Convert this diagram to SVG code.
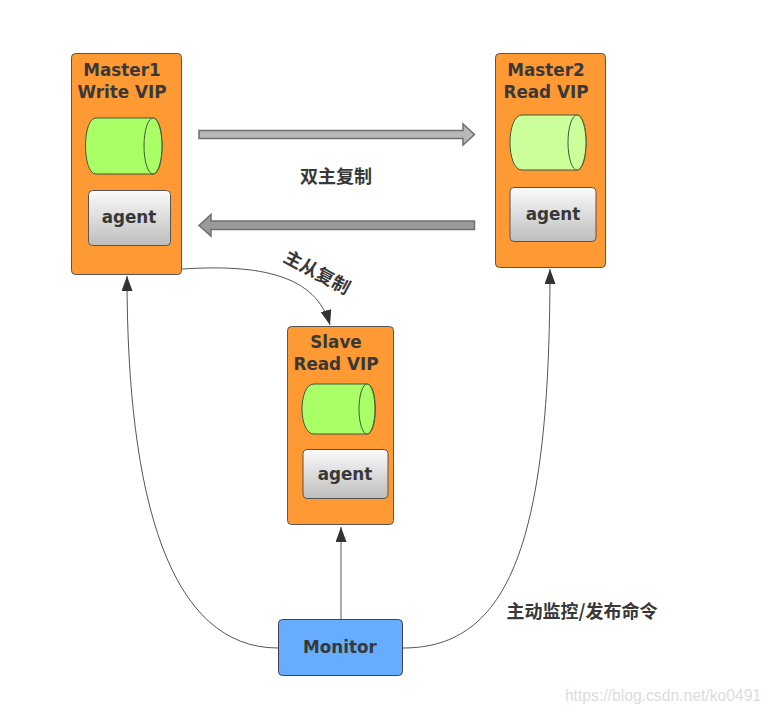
<svg xmlns="http://www.w3.org/2000/svg" width="769" height="713" viewBox="0 0 769 713">
<style>
text{font-family:"DejaVu Sans","Noto Sans CJK SC",sans-serif;font-weight:700;fill:#383838;text-anchor:middle}
.t{font-size:16.800px}
.zh{font-size:18px;font-family:"Noto Sans CJK SC",sans-serif}
.box{fill:#ff9933;stroke:#555;stroke-width:1}
.ag{fill:url(#ag);stroke:#555;stroke-width:1}
.cyl{stroke:#3d5a3d;stroke-width:1}
.link{fill:none;stroke:#555;stroke-width:1}
.big{stroke:#6f6f6f;stroke-width:1.500}
</style>
<defs>
<linearGradient id="ag" x1="0" y1="0" x2="0" y2="1"><stop offset="0" stop-color="#fbfbfb"/><stop offset="1" stop-color="#bdbdbd"/></linearGradient>
<marker id="tip" markerUnits="userSpaceOnUse" markerWidth="16" markerHeight="12" refX="15" refY="5.500" orient="auto"><path d="M0 0L15 5.500L0 11Z" fill="#333"/></marker>
</defs>
<rect width="769" height="713" fill="#fff"/>
<g id="connectors">
<path class="big" fill="#b8b8b8" d="M199 130.500H463V124L474.500 134.500L463 145V138.500H199Z"/>
<path class="big" fill="#9a9a9a" d="M474.500 221H211V214.500L199 225.500L211 236V229.500H474.500Z"/>
<path class="link" marker-end="url(#tip)" d="M182 269C260 264 316 275 330 325"/>
<path class="link" marker-end="url(#tip)" d="M278 648C170 648 127 500 127 276"/>
<path class="link" marker-end="url(#tip)" d="M341 619V527"/>
<path class="link" marker-end="url(#tip)" d="M403 648C510 648 550 540 550 269"/>
</g>
<g id="master1">
<rect class="box" x="71.500" y="53.500" width="110" height="221" rx="4"/>
<text class="t"><tspan x="122" y="76">Master1</tspan><tspan x="122" y="98">Write VIP</tspan></text>
<path class="cyl" fill="#aaff66" d="M96 118H153C165 118 165 174 153 174H96C82 174 82 118 96 118Z"/>
<ellipse class="cyl" fill="#aaff66" cx="153" cy="146" rx="9" ry="28"/>
<rect class="ag" x="88.500" y="190.500" width="82" height="55" rx="4"/>
<text class="t" x="129" y="223">agent</text>
</g>
<g id="master2">
<rect class="box" x="495.500" y="53.500" width="110" height="214" rx="4"/>
<text class="t"><tspan x="546" y="76">Master2</tspan><tspan x="546" y="98">Read VIP</tspan></text>
<path class="cyl" fill="#ccff99" d="M522 115H577C589 115 589 170 577 170H522C506 170 506 115 522 115Z"/>
<ellipse class="cyl" fill="#ccff99" cx="577" cy="142.500" rx="9" ry="27.500"/>
<rect class="ag" x="510" y="187.500" width="86" height="54" rx="4"/>
<text class="t" x="553" y="220">agent</text>
</g>
<g id="slave">
<rect class="box" x="287.500" y="326.500" width="106" height="198" rx="4"/>
<text class="t"><tspan x="336" y="348">Slave</tspan><tspan x="336" y="370">Read VIP</tspan></text>
<path class="cyl" fill="#aaff66" d="M314 384H367C378 384 378 434 367 434H314C298 434 298 384 314 384Z"/>
<ellipse class="cyl" fill="#aaff66" cx="367" cy="409" rx="8" ry="25"/>
<rect class="ag" x="303" y="449.500" width="85" height="49" rx="4"/>
<text class="t" x="345" y="480">agent</text>
</g>
<g id="monitor">
<rect x="278.500" y="619.500" width="124" height="56" rx="4" fill="#66adff" stroke="#444"/>
<text class="t" x="340" y="653">Monitor</text>
</g>
<g id="labels">
<text class="zh" x="336" y="183">双主复制</text>
<text class="zh" transform="translate(314 278) rotate(28)">主从复制</text>
<text class="zh" x="582" y="618">主动监控/发布命令</text>
<text x="663" y="701" style="font-family:'Liberation Sans',sans-serif;font-weight:400;font-size:15.700px;fill:#dcdcdc">https://blog.csdn.net/ko0491</text>
</g>
</svg>
